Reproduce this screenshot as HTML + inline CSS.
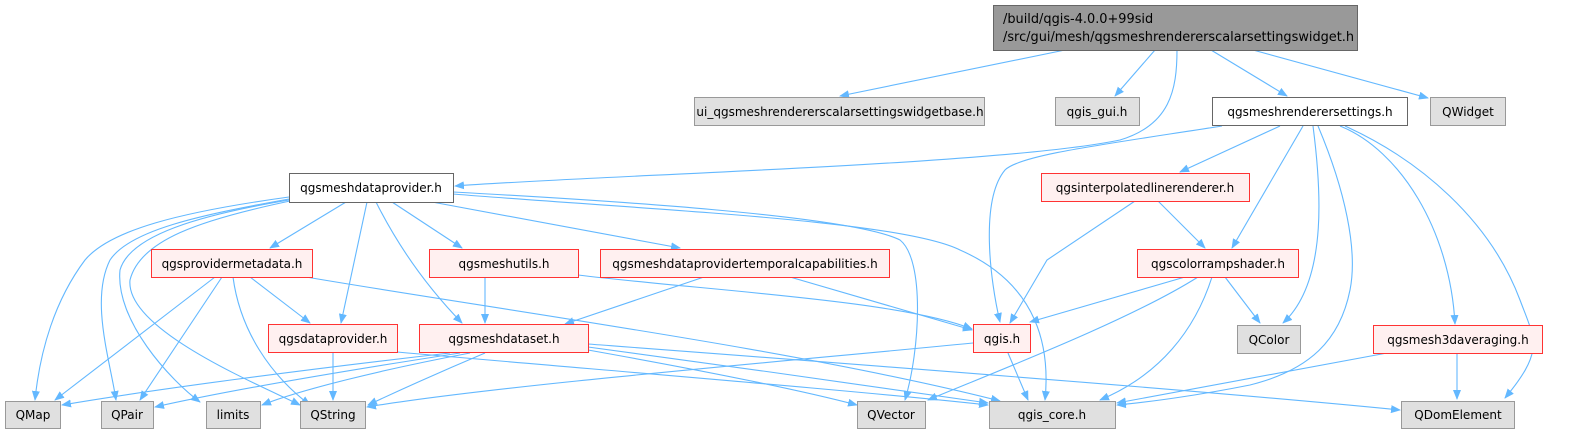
<!DOCTYPE html>
<html><head><meta charset="utf-8"><style>
html,body{margin:0;padding:0;background:#fff;width:1578px;height:434px;overflow:hidden}
svg text{font-family:"DejaVu Sans","Liberation Sans",sans-serif;font-size:12px;fill:#000}
</style></head><body>
<svg width="1578" height="434" viewBox="0 0 1578 434" xmlns="http://www.w3.org/2000/svg">
<defs><marker id="a" markerWidth="10" markerHeight="8" refX="9" refY="4" orient="auto" markerUnits="userSpaceOnUse"><path d="M0,0 L10,4 L0,8 z" fill="#63b8ff"/></marker></defs>
<g fill="none" stroke="#63b8ff" stroke-width="1.1" marker-end="url(#a)">
<path d="M1065,50 L840,96"/>
<path d="M1155,50 L1115,96"/>
<path d="M1177,50 C1177,90 1170,125 1120,140 C1000,165 600,175 455,186"/>
<path d="M1211,50 L1287,96"/>
<path d="M1253,50 L1428,98"/>
<path d="M1222,126 C1100,145 1020,155 1005,170 C980,200 990,280 1000,322"/>
<path d="M1280,126 L1180,172"/>
<path d="M1303,126 L1232,248"/>
<path d="M1313,126 C1320,180 1330,280 1283,323"/>
<path d="M1318,126 C1345,190 1358,250 1350,290 C1340,340 1310,370 1250,385 C1200,395 1150,402 1117,405"/>
<path d="M1340,126 C1400,150 1450,230 1455,324"/>
<path d="M1345,126 C1420,160 1490,220 1520,300 C1535,340 1545,350 1505,398"/>
<path d="M1158,201 L1205,248"/>
<path d="M1135,201 L1047,260 L1010,323"/>
<path d="M1185,277 L1030,322"/>
<path d="M1198,277 C1130,320 1000,370 928,400"/>
<path d="M1212,277 C1195,330 1160,375 1100,400"/>
<path d="M1225,277 L1260,323"/>
<path d="M973,343 C800,360 500,385 367,407"/>
<path d="M1008,353 L1028,400"/>
<path d="M1387,353 L1117,403"/>
<path d="M1457,353 L1457,399"/>
<path d="M289,197 C180,212 110,230 85,260 C55,300 40,350 35,400"/>
<path d="M289,199 C200,215 130,230 110,260 C90,300 110,360 116,400"/>
<path d="M289,200 C200,215 130,235 120,270 C115,320 170,380 200,402"/>
<path d="M290,201 C200,220 140,240 130,280 C125,330 260,385 300,405"/>
<path d="M346,202 L270,248"/>
<path d="M367,202 L341,323"/>
<path d="M376,202 C400,250 430,290 462,323"/>
<path d="M392,202 L462,248"/>
<path d="M432,202 L680,248"/>
<path d="M453,192 C600,200 850,215 900,240 C925,260 920,350 905,400"/>
<path d="M453,194 C650,210 900,220 960,250 C1040,285 1050,350 1045,400"/>
<path d="M215,277 L55,400"/>
<path d="M222,277 L140,400"/>
<path d="M233,277 C240,330 270,375 310,405"/>
<path d="M250,277 L310,323"/>
<path d="M306,277 C500,310 800,350 1000,401"/>
<path d="M485,277 L485,323"/>
<path d="M578,275 C700,290 900,300 972,329"/>
<path d="M704,277 L565,324"/>
<path d="M790,277 L972,330"/>
<path d="M333,353 L333,400"/>
<path d="M397,352 C600,370 850,390 988,405"/>
<path d="M450,353 C300,370 150,390 62,405"/>
<path d="M460,353 C350,370 230,390 155,407"/>
<path d="M470,353 C380,370 300,390 262,405"/>
<path d="M485,353 C440,372 400,390 368,405"/>
<path d="M588,350 C700,370 800,390 857,405"/>
<path d="M588,347 C700,362 900,390 988,403"/>
<path d="M588,344 C800,360 1200,390 1400,410"/>
</g>
<g stroke-width="1">
<rect x="993.5" y="5.5" width="364" height="45" fill="#999" stroke="#666"/>
<rect x="694.5" y="97.5" width="290" height="28" fill="#e0e0e0" stroke="#999"/>
<rect x="1055.5" y="97.5" width="84" height="28" fill="#e0e0e0" stroke="#999"/>
<rect x="1212.5" y="97.5" width="195" height="28" fill="#fff" stroke="#666"/>
<rect x="1430.5" y="97.5" width="75" height="28" fill="#e0e0e0" stroke="#999"/>
<rect x="289.5" y="173.5" width="164" height="29" fill="#fff" stroke="#666"/>
<rect x="1041.5" y="173.5" width="208" height="28" fill="#fff0f0" stroke="#f33"/>
<rect x="151.5" y="249.5" width="161" height="28" fill="#fff0f0" stroke="#f33"/>
<rect x="429.5" y="249.5" width="149" height="28" fill="#fff0f0" stroke="#f33"/>
<rect x="600.5" y="249.5" width="289" height="28" fill="#fff0f0" stroke="#f33"/>
<rect x="1137.5" y="249.5" width="161" height="28" fill="#fff0f0" stroke="#f33"/>
<rect x="268.5" y="324.5" width="129" height="28" fill="#fff0f0" stroke="#f33"/>
<rect x="419.5" y="324.5" width="169" height="28" fill="#fff0f0" stroke="#f33"/>
<rect x="973.5" y="324.5" width="57" height="28" fill="#fff0f0" stroke="#f33"/>
<rect x="1237.5" y="325.5" width="63" height="28" fill="#e0e0e0" stroke="#999"/>
<rect x="1373.5" y="325.5" width="169" height="28" fill="#fff0f0" stroke="#f33"/>
<rect x="5.5" y="401.5" width="55" height="27" fill="#e0e0e0" stroke="#999"/>
<rect x="101.5" y="401.5" width="52" height="27" fill="#e0e0e0" stroke="#999"/>
<rect x="206.5" y="401.5" width="54" height="27" fill="#e0e0e0" stroke="#999"/>
<rect x="300.5" y="401.5" width="65" height="27" fill="#e0e0e0" stroke="#999"/>
<rect x="857.5" y="401.5" width="68" height="27" fill="#e0e0e0" stroke="#999"/>
<rect x="989.5" y="401.5" width="126" height="27" fill="#e0e0e0" stroke="#999"/>
<rect x="1401.5" y="401.5" width="113" height="27" fill="#e0e0e0" stroke="#999"/>
</g>
<text x="1003" y="23" style="font-size:12.9px">/build/qgis-4.0.0+99sid</text>
<text x="1003" y="41" style="font-size:12.9px">/src/gui/mesh/qgsmeshrendererscalarsettingswidget.h</text>
<g text-anchor="middle">
<text x="840" y="116">ui_qgsmeshrendererscalarsettingswidgetbase.h</text>
<text x="1097" y="116">qgis_gui.h</text>
<text x="1310" y="116">qgsmeshrenderersettings.h</text>
<text x="1468" y="116">QWidget</text>
<text x="371" y="192">qgsmeshdataprovider.h</text>
<text x="1145" y="192">qgsinterpolatedlinerenderer.h</text>
<text x="232" y="268">qgsprovidermetadata.h</text>
<text x="504" y="268">qgsmeshutils.h</text>
<text x="745" y="268">qgsmeshdataprovidertemporalcapabilities.h</text>
<text x="1218" y="268">qgscolorrampshader.h</text>
<text x="333" y="343">qgsdataprovider.h</text>
<text x="504" y="343">qgsmeshdataset.h</text>
<text x="1002" y="343">qgis.h</text>
<text x="1269" y="344">QColor</text>
<text x="1458" y="344">qgsmesh3daveraging.h</text>
<text x="33" y="419">QMap</text>
<text x="127" y="419">QPair</text>
<text x="233" y="419">limits</text>
<text x="333" y="419">QString</text>
<text x="891" y="419">QVector</text>
<text x="1052" y="419">qgis_core.h</text>
<text x="1458" y="419">QDomElement</text>
</g>
</svg>
</body></html>
